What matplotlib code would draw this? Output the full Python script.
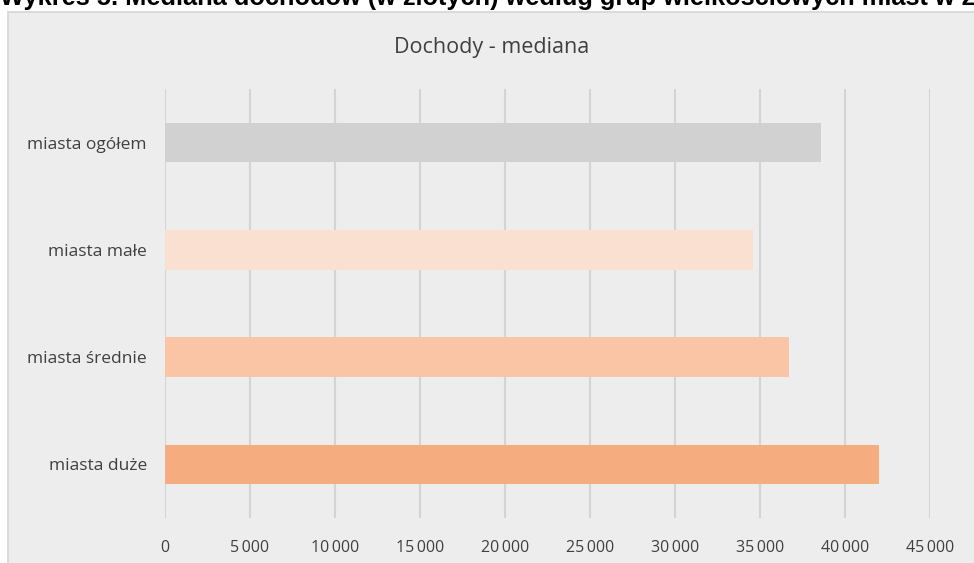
import matplotlib.pyplot as plt
from matplotlib.patches import Rectangle
from matplotlib.ticker import FuncFormatter

# dane z wykresu
kategorie = ["miasta ogółem", "miasta małe", "miasta średnie", "miasta duże"]
mediana = [38570, 34570, 36690, 42000]
kolory = ["#D0D1D0", "#FAE0D0", "#F9C5A5", "#F5AD80"]
x_ticks = list(range(0, 45001, 5000))

tytul = "Wykres 5. Mediana dochodów (w złotych) według grup wielkościowych miast w 2019 r."

plt.rcParams["font.family"] = ["Open Sans", "DejaVu Sans"]

fig = plt.figure(figsize=(9.74, 5.63), dpi=100)
fig.patch.set_facecolor("white")

# szare tło ramki wykresu
tlo = Rectangle((8 / 974, -0.05), 1.1, 1 - 12 / 563 + 0.05,
                transform=fig.transFigure, facecolor="#EDEDED",
                edgecolor="#D6D6D6", linewidth=1.2, zorder=-10)
fig.patches.append(tlo)

# tytuł (ucięty u góry jak w oryginale) - rozmiar dobrany tak, by "2" zaczynało się ok. x=967
renderer = fig.canvas.get_renderer()
tmp = fig.text(0, 0, "Wykres 5. Mediana dochodów (w złotych) według grup wielkościowych miast w ",
               fontsize=18, fontweight="bold", family=["Liberation Sans", "DejaVu Sans"])
w0 = tmp.get_window_extent(renderer).width
tmp.remove()
fs_tytul = 18 * 967 / w0

fig.text(0.0, 1 - 4.5 / 563, tytul,
         fontsize=fs_tytul, fontweight="bold", family=["Liberation Sans", "DejaVu Sans"],
         color="black", va="baseline", ha="left")

fig.text(492 / 974, 1 - 47 / 563, "Dochody - mediana", fontsize=15.5,
         color="#404040", ha="center", va="center")

ax = fig.add_axes([165 / 974, 1 - 518 / 563, 765 / 974, 429 / 563])
ax.set_facecolor("none")

y = range(len(kategorie))
ax.barh(y, mediana, height=0.37, color=kolory, zorder=3)

ax.set_ylim(len(kategorie) - 0.5, -0.5)
ax.set_xlim(0, 45000)
ax.set_xticks(x_ticks)
ax.xaxis.set_major_formatter(
    FuncFormatter(lambda v, p: f"{int(v):,}".replace(",", "\u2009")))
ax.set_yticks(list(y))
ax.set_yticklabels(kategorie)

ax.grid(axis="x", color="#D4D4D4", linewidth=1.5, zorder=1)
ax.set_axisbelow(True)
for s in ax.spines.values():
    s.set_visible(False)

ax.tick_params(axis="both", length=0, colors="#404040")
ax.tick_params(axis="y", pad=13, labelsize=12.5)
ax.tick_params(axis="x", pad=16, labelsize=11.5)

fig.savefig("out.png", dpi=100)
